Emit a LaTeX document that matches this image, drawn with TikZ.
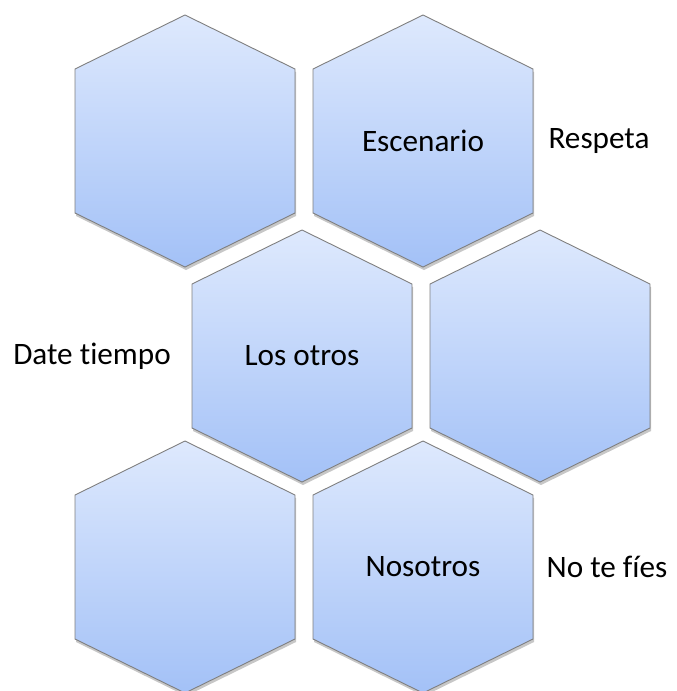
\documentclass[tikz,border=0pt]{standalone}
\usepackage{fontspec}
\setmainfont{Carlito}[Ligatures={NoCommon}]
\usetikzlibrary{shadows}
\definecolor{hextop}{HTML}{DEE9FD}
\definecolor{hexbot}{HTML}{A3C1F7}
\definecolor{hexline}{HTML}{7F7F7F}
\tikzset{
  hexcell/.style={draw=hexline, line width=0.9pt, top color=hextop, bottom color=hexbot,
    drop shadow={shadow xshift=1pt, shadow yshift=-3pt, opacity=0.22, fill=black}},
  lbl/.style={font=\fontsize{31.2}{36}\selectfont, inner sep=0pt, text=black}
}
\newcommand\hexcell[3]{%
  \path[hexcell] (#1,#2) ++(0,126) -- ++(110,-54) -- ++(0,-144) -- ++(-110,-54)
    -- ++(-110,54) -- ++(0,144) -- cycle;
  \node[lbl] (#3) at (#1,#2) {};
}
\begin{document}
\begin{tikzpicture}[x=1pt,y=1pt]
\useasboundingbox (0,0) rectangle (677,-691);
\hexcell{185}{-141}{h1}
\hexcell{423}{-141}{h2}
\hexcell{302}{-356}{h3}
\hexcell{540}{-356}{h4}
\hexcell{185}{-567}{h5}
\hexcell{423}{-567}{h6}
\node[lbl] (esc) at (h2) {Escenario};
\node[lbl] (otros) at (h3) {Los otros};
\node[lbl] (nos) at (h6) {Nosotros};
\node[lbl] (resp) at (599,-141) {Respeta};
\node[lbl] (date) at (92,-356) {Date tiempo};
\node[lbl] (fies) at (607,-567) {No te fíes};
\end{tikzpicture}
\end{document}
